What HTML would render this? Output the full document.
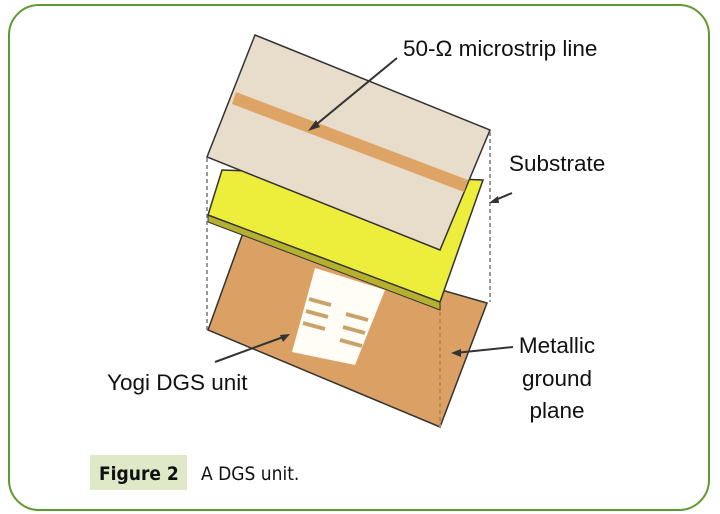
<!DOCTYPE html>
<html><head><meta charset="utf-8"><style>
body{margin:0;background:#fff;width:720px;height:514px;overflow:hidden}
svg{display:block}
</style></head><body>
<svg width="720" height="514" viewBox="0 0 720 514" xmlns="http://www.w3.org/2000/svg">
<rect x="9" y="5" width="700" height="505" rx="30" ry="30" fill="#fff" stroke="#5e9a32" stroke-width="2"/>
<g stroke="#999" stroke-width="2" stroke-dasharray="4,3" fill="none">
<line x1="207" y1="158" x2="207" y2="330"/>
<line x1="490" y1="132" x2="490" y2="302"/>
</g>
<polygon points="243,233 487,303 440,427 208,330" fill="#dba063" stroke="#333" stroke-width="1.5"/>
<polygon points="315,268 385,290 355,365 292,352" fill="#fffdf5"/>
<g stroke="#c9a26a" stroke-width="4">
<line x1="309" y1="299" x2="331" y2="305"/>
<line x1="306" y1="311" x2="328" y2="317"/>
<line x1="303" y1="323" x2="325" y2="329"/>
<line x1="346" y1="314" x2="368" y2="320"/>
<line x1="343" y1="327" x2="365" y2="333"/>
<line x1="340" y1="340" x2="362" y2="346"/>
</g>
<line x1="440" y1="305" x2="440" y2="427" stroke="#b88a50" stroke-width="2" stroke-dasharray="4,3"/>
<polygon points="208,215 440,302 440,310 208,222" fill="#b5b030" stroke="#333" stroke-width="1"/>
<polygon points="222,170 483,180 440,302 208,215" fill="#eded3c" stroke="#333" stroke-width="1.5"/>
<polygon points="255,35 490,130 440,250 207,157" fill="#e8dccb" stroke="#333" stroke-width="1.5"/>
<polygon points="236,92 468,180 464,192 232,104" fill="#dea466"/>
<g stroke="#333" stroke-width="2" fill="#333">
<line x1="397" y1="58" x2="312" y2="128"/>
<line x1="512" y1="193" x2="493" y2="201"/>
<line x1="513" y1="347" x2="455" y2="353"/>
<line x1="215" y1="362" x2="286" y2="336"/>
</g>
<g fill="#333">
<polygon points="308,131 316,120 320,127"/>
<polygon points="489,203 498,196 499,203"/>
<polygon points="451,353 461,349 461,357"/>
<polygon points="290,334 280,335 283,342"/>
</g>
<g font-family="Liberation Sans, sans-serif" font-size="22.5" fill="#111">
<text x="403" y="56">50-Ω microstrip line</text>
<text x="509" y="171">Substrate</text>
<text x="557" y="353" text-anchor="middle">Metallic</text>
<text x="557" y="386" text-anchor="middle">ground</text>
<text x="557" y="418" text-anchor="middle">plane</text>
<text x="107" y="390">Yogi DGS unit</text>
</g>
<rect x="90" y="455" width="97" height="35" fill="#dfe9c8"/>
<g font-family="DejaVu Sans Condensed, Liberation Sans, sans-serif" font-size="19" fill="#111">
<text x="99" y="480" font-weight="bold">Figure 2</text>
<text x="201" y="480">A DGS unit.</text>
</g>
</svg>
</body></html>
